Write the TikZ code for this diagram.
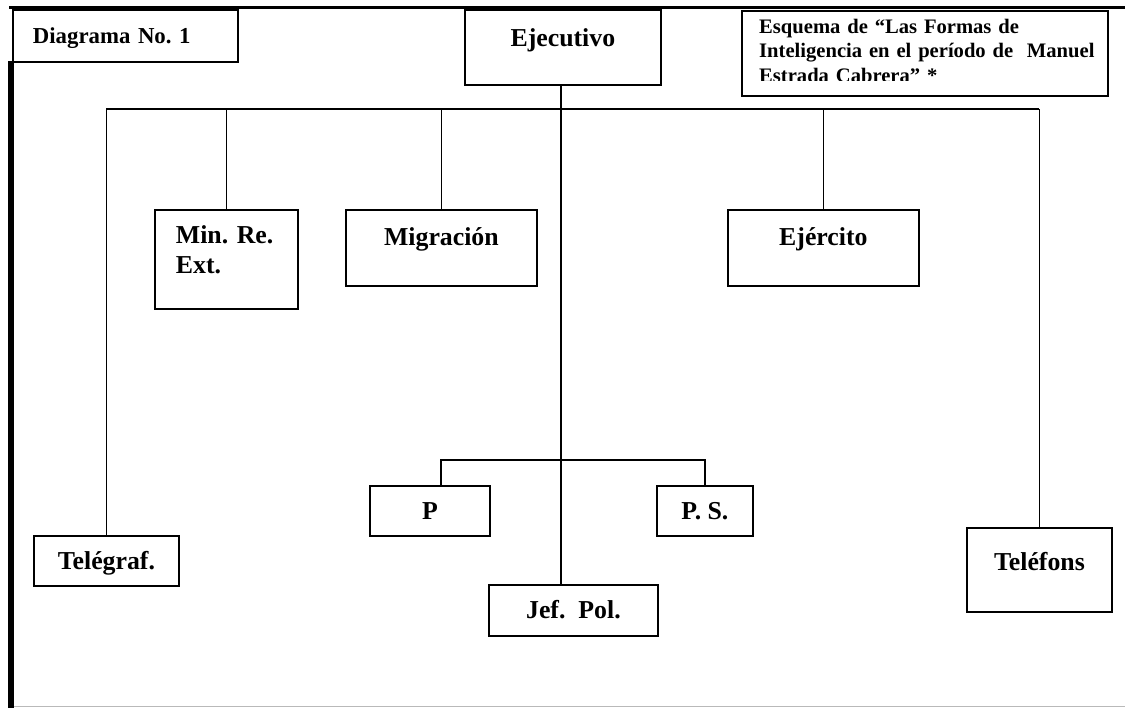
\documentclass[tikz,border=0pt]{standalone}
\usepackage{fontspec}
\setmainfont{Liberation Serif}
\frenchspacing
\begin{document}
\begin{tikzpicture}[x=1pt,y=-1pt]
\tikzset{
  box/.style={draw, line width=1.8pt, fill=white, inner sep=0pt, anchor=north west,
              font=\bfseries\fontsize{25.8}{30}\selectfont},
  wire/.style={line width=1.5pt},
  frame/.style={line width=#1},
}
\useasboundingbox (0,0) rectangle (1125,708);

% page frame
\draw[frame=3.4pt] (9,7.7) -- (1125,7.7);
\draw[frame=5.5pt] (11.2,61) -- (11.2,708);
\draw[gray!55, line width=1pt] (14,706.5) -- (1125,706.5);

% title boxes
\node[box, text width=185, inner xsep=20, align=left, text height=34, text depth=18,
      font=\bfseries\fontsize{22.8}{27}\selectfont] (diag) at (12,9) {Diagrama No. 1};
\node[box, minimum width=366, minimum height=85] (esq) at (741,10) {};
\begin{scope}
  \clip (741,10) rectangle (1107,80.5);
  \node[anchor=north west, inner sep=0pt, text width=345, align=left, text height=14,
        font=\bfseries\fontsize{20.6}{24.5}\selectfont] (esqtext) at (759,19)
       {Esquema de “Las Formas de\\Inteligencia en el período de\ \ Manuel\\Estrada Cabrera” *};
\end{scope}

% organisation boxes
\node[box, minimum width=196, text height=37, text depth=38] (exec) at (464,9) {Ejecutivo};
\node[box, text width=143, inner xsep=0, align=left, text height=34, text depth=65] (minre) at (154,209)
     {\hspace*{21pt}Min. Re.\\\hspace*{21pt}Ext.};
\node[box, minimum width=191, text height=36, text depth=40] (mig) at (345,209) {Migración};
\node[box, minimum width=191, text height=36, text depth=40] (ejer) at (727,209) {Ejército};
\node[box, minimum width=120, text height=34, text depth=16] (p) at (369,485) {P};
\node[box, minimum width=96, text height=34, text depth=16] (ps) at (656,485) {P. S.};
\node[box, minimum width=169, text height=34, text depth=17] (jef) at (488,584) {Jef.\ \ Pol.};
\node[box, minimum width=145, text height=34, text depth=16] (tel) at (33,535) {Telégraf.};
\node[box, minimum width=145, text height=43, text depth=41] (fon) at (966,527) {Teléfons};

% connectors
\coordinate (busY) at (0,109);
\coordinate (trunkX) at (561,0);
\coordinate (subL) at (441,460);
\draw[wire] (tel.north |- busY) -- (fon.north |- busY);
\draw[wire] (trunkX |- exec.south) -- (trunkX |- jef.north);
\foreach \n in {tel, minre, mig, ejer, fon}
  \draw[wire] (\n.north |- busY) -- (\n.north);
\draw[wire] (p.north -| subL) -- (subL) -- (ps.north |- subL) -- (ps.north);
\end{tikzpicture}
\end{document}
